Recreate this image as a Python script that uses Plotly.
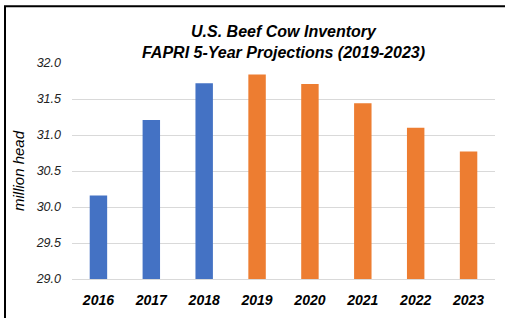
import plotly.graph_objects as go

years = ["2016", "2017", "2018", "2019", "2020", "2021", "2022", "2023"]
inventory = [30.16, 31.21, 31.72, 31.84, 31.71, 31.44, 31.10, 30.77]
bar_colors = ["#4472C4", "#4472C4", "#4472C4", "#ED7D31", "#ED7D31", "#ED7D31", "#ED7D31", "#ED7D31"]
y_ticks = [29.0, 29.5, 30.0, 30.5, 31.0, 31.5, 32.0]
y_tick_text = ["29.0", "29.5", "30.0", "30.5", "31.0", "31.5", "32.0"]

W, H = 505, 318
L, R, T, B = 72, 10, 63, 34
pw, ph = W - L - R, H - T - B

def px_to_paper_x(px):
    return (px - L) / pw

def px_to_paper_y(py):
    return (H - B - py) / ph

fig = go.Figure(go.Bar(
    x=years, y=inventory, marker=dict(color=bar_colors, line=dict(width=0)),
    width=0.33,
))

fig.update_layout(
    width=W, height=H,
    margin=dict(l=L, r=R, t=T, b=B),
    paper_bgcolor="white", plot_bgcolor="white",
    font=dict(family="Liberation Sans, Arial, sans-serif", color="#000"),
    title=dict(
        text="<b><i>U.S. Beef Cow Inventory<br>FAPRI 5-Year Projections (2019-2023)</i></b>",
        x=0.5, xref="paper", xanchor="center",
        y=1 - 37 / H, yref="container", yanchor="middle",
        font=dict(size=16, color="#000"),
    ),
    showlegend=False,
    xaxis=dict(
        showgrid=False, showline=True, linecolor="#d9d9d9", linewidth=1,
        tickfont=dict(size=14, color="#000"),
        tickmode="array", tickvals=years,
        ticktext=[f"<b><i>{y}</i></b>" for y in years],
        ticks="", ticklabelstandoff=8,
    ),
    yaxis=dict(
        range=[29.0, 32.0], tickmode="array", tickvals=y_ticks,
        ticktext=[f"<i>{t}</i>" for t in y_tick_text],
        tickfont=dict(size=12.5, color="#222"),
        showgrid=True, gridcolor="#d9d9d9", gridwidth=1,
        zeroline=False, ticks="", ticklabelstandoff=10,
        title=dict(text="<i>million head</i>", font=dict(size=15, color="#000"), standoff=7),
    ),
)

fig.add_shape(
    type="rect", xref="paper", yref="paper",
    x0=px_to_paper_x(5), x1=px_to_paper_x(512),
    y0=px_to_paper_y(330), y1=px_to_paper_y(5),
    line=dict(color="black", width=2), fillcolor="rgba(0,0,0,0)", layer="above",
)

fig.write_html(
    "out.html",
    config={"displayModeBar": False},
    post_script="document.body.style.margin='0';document.body.style.overflow='hidden';",
)
